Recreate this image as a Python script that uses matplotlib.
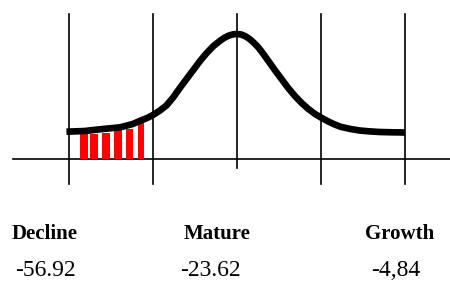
import matplotlib.pyplot as plt

# life-cycle curve points (stage units on x, height on y)
curve_x = [-0.03, 0.19, 0.37, 0.61, 0.76, 0.85, 0.93, 1.0, 1.08, 1.16, 1.24, 1.32, 1.40,
           1.48, 1.56, 1.64, 1.72, 1.80, 1.85, 1.90, 1.95, 2.0, 2.05, 2.10, 2.15, 2.20,
           2.25, 2.29, 2.37, 2.45, 2.53, 2.61, 2.69, 2.77, 2.85, 2.93, 3.0, 3.08, 3.15, 3.23,
           3.35, 3.46, 3.58, 3.70, 3.85, 4.0]
curve_y = [27.3, 28, 29.7, 31.7, 35, 38.3, 41, 44, 48.3, 53.5, 61.5, 71, 80,
           89, 98, 106, 113, 118.3, 121.2, 123.3, 124.6, 125, 124.5, 122.8, 120, 116.3,
           112, 107.8, 98.5, 89, 80, 71, 63, 56, 50, 45, 41.5, 37.8, 35, 32.3,
           30, 28.5, 27.6, 27, 26.7, 26.5]

# red bars in the decline stage
bar_x = [0.18, 0.30, 0.44, 0.58, 0.72, 0.86]
bar_h = [25, 25, 26, 30, 30, 37]
bar_w = [0.095, 0.09, 0.095, 0.095, 0.09, 0.07]

stages = [0, 1, 2, 3, 4]
labels = ["Decline", "Mature", "Growth"]
label_x = [-0.29, 1.76, 3.94]
values = ["-56.92", "-23.62", "-4,84"]
value_x = [-0.28, 1.68, 3.89]

fig = plt.figure(figsize=(4.5, 2.82), dpi=100)
ax = fig.add_axes([0, 0, 1, 1])
ax.set_xlim(-0.821, 4.536)
ax.set_ylim(-123, 159)
ax.axis('off')

# grid lines
for s in stages:
    bottom = -9 if s == 2 else -25
    ax.plot([s, s], [bottom, 145], color='black', lw=1.2)
ax.plot([-0.667, 4.536], [0, 0], color='black', lw=1.2)

ax.bar(bar_x, bar_h, width=bar_w, color='#ff0000', zorder=2)
ax.plot(curve_x, curve_y, color='black', lw=4.8, zorder=3,
        solid_capstyle='butt', solid_joinstyle='round')

for x, t in zip(label_x, labels):
    ax.text(x, -75, t, ha='center', va='center', fontsize=15,
            fontweight='bold', family='Liberation Serif')
for x, t in zip(value_x, values):
    ax.text(x, -112, t, ha='center', va='center', fontsize=17,
            family='Liberation Serif')

fig.savefig('out.png', dpi=100)
